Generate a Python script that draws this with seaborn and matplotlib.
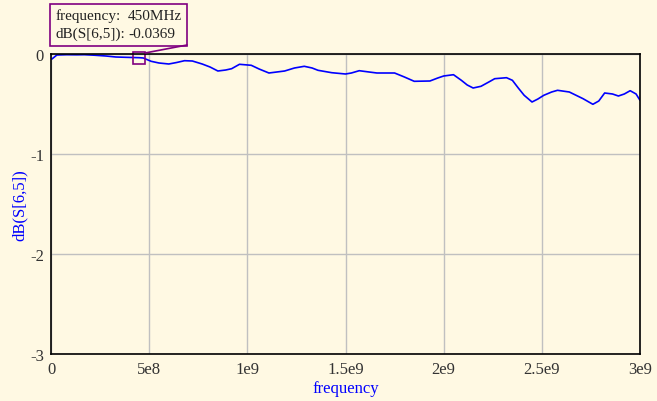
import numpy as np
import pandas as pd
import matplotlib
matplotlib.use("Agg")
import matplotlib.pyplot as plt
import seaborn as sns
from matplotlib.lines import Line2D
from matplotlib.patches import Rectangle

# trace (Hz, dB)
freq = [0.005e9, 0.011e9, 0.03e9, 0.08e9, 0.13e9, 0.17e9, 0.22e9, 0.28e9, 0.33e9, 0.38e9,
        0.45e9, 0.47e9, 0.51e9, 0.55e9, 0.6e9, 0.64e9, 0.68e9, 0.72e9, 0.77e9, 0.81e9,
        0.85e9, 0.89e9, 0.92e9, 0.96e9, 1.02e9, 1.06e9, 1.11e9, 1.15e9, 1.19e9, 1.24e9,
        1.29e9, 1.33e9, 1.36e9, 1.43e9, 1.50e9, 1.53e9, 1.57e9, 1.62e9, 1.66e9, 1.75e9,
        1.80e9, 1.85e9, 1.93e9, 1.97e9, 2.0e9, 2.05e9, 2.09e9, 2.12e9, 2.15e9, 2.19e9,
        2.23e9, 2.26e9, 2.32e9, 2.35e9, 2.38e9, 2.41e9, 2.45e9, 2.48e9, 2.51e9, 2.55e9,
        2.58e9, 2.64e9, 2.71e9, 2.76e9, 2.79e9, 2.82e9, 2.86e9, 2.89e9, 2.92e9, 2.95e9,
        2.98e9, 3.0e9]
db = [-0.05, -0.04, -0.01, -0.007, -0.008, -0.007, -0.012, -0.02, -0.03, -0.033,
      -0.037, -0.04, -0.073, -0.09, -0.1, -0.085, -0.067, -0.07, -0.1, -0.13,
      -0.17, -0.16, -0.147, -0.103, -0.113, -0.15, -0.19, -0.18, -0.17, -0.14,
      -0.123, -0.14, -0.163, -0.187, -0.2, -0.19, -0.167, -0.18, -0.19, -0.19,
      -0.23, -0.273, -0.27, -0.24, -0.22, -0.207, -0.263, -0.31, -0.34, -0.323,
      -0.28, -0.247, -0.237, -0.263, -0.34, -0.413, -0.48, -0.45, -0.413, -0.38,
      -0.363, -0.38, -0.447, -0.503, -0.47, -0.39, -0.4, -0.42, -0.4, -0.367,
      -0.4, -0.463]

xticks = [0, 5e8, 1e9, 1.5e9, 2e9, 2.5e9, 3e9]
xticklabels = ["0", "5e8", "1e9", "1.5e9", "2e9", "2.5e9", "3e9"]
yticks = [0, -1, -2, -3]

marker_f = 450e6
marker_db = -0.0369
readout_names = ["frequency:", "dB(S[6,5]):"]
readout_values = ["450MHz", "-0.0369"]

bg = "#fff9e3"
purple = "#800080"

sns.set_theme(style="white")
plt.rcParams["font.family"] = ["Liberation Serif", "DejaVu Serif"]

W, H = 657, 402
fig = plt.figure(figsize=(6.57, 4.02), dpi=100, facecolor=bg)
ax = fig.add_axes([51 / W, 1 - 355 / H, 589 / W, 300 / H])
ax.set_facecolor(bg)

df = pd.DataFrame({"frequency": freq, "dB": db})
sns.lineplot(data=df, x="frequency", y="dB", ax=ax, color="#0000ff", linewidth=1.2)

ax.set_xlim(0, 3e9)
ax.set_ylim(-3, 0)
ax.set_xticks(xticks)
ax.set_xticklabels(xticklabels)
ax.set_yticks(yticks)
ax.set_yticklabels([str(t) for t in yticks])
ax.grid(True, color="#c0c0c0", linewidth=1)
for s in ax.spines.values():
    s.set_color("black")
    s.set_linewidth(1.2)
ax.tick_params(direction="inout", length=8, width=1.2, colors="black",
               labelsize=12, labelcolor="#333333", pad=1)
ax.set_xlabel("frequency", color="#0000ff", fontsize=12, labelpad=2)
ax.set_ylabel("dB(S[6,5])", color="#0000ff", fontsize=12)
ax.yaxis.set_label_coords(-23 / 589, 0.5)

# marker square
ax.plot([marker_f], [marker_db], marker="s", markersize=9, markerfacecolor="none",
        markeredgecolor=purple, markeredgewidth=1.2, clip_on=False)

# readout box
fig.add_artist(Rectangle((50 / W, 1 - 47 / H), 137 / W, 42 / H, transform=fig.transFigure,
                         facecolor=bg, edgecolor=purple, linewidth=1.2))
for i, (name, val) in enumerate(zip(readout_names, readout_values)):
    yc = 1 - (16 + 18 * i) / H
    fig.text(56 / W, yc, name, fontsize=11, color="#222222", va="center", ha="left")
    fig.text(128 / W, yc, val, fontsize=11, color="#222222", va="center", ha="left")
fig.add_artist(Line2D([145 / W, 187 / W], [1 - 54 / H, 1 - 46 / H],
                      color=purple, linewidth=1.2))

fig.savefig("out.png", dpi=100, facecolor=bg)
